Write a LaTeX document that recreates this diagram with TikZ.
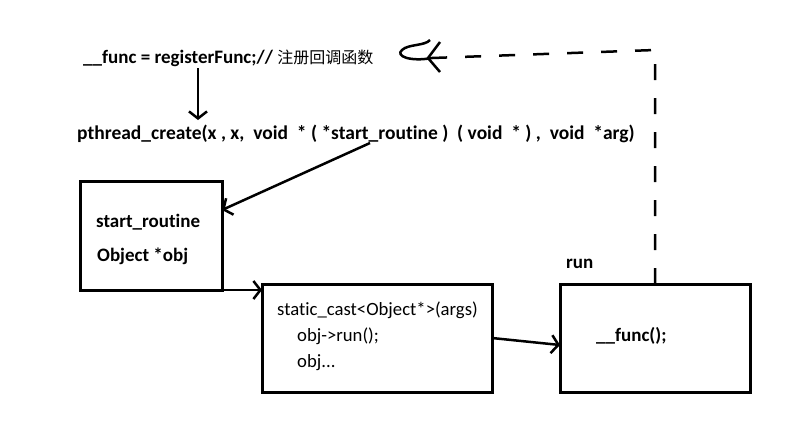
\documentclass[tikz,border=0pt]{standalone}
\usepackage{fontspec}
\setmainfont{Carlito}[Ligatures={NoCommon}]
\newfontfamily\cjk{Noto Sans CJK SC}
\usetikzlibrary{arrows.meta,calc}
\begin{document}
\begin{tikzpicture}[x=1pt,y=-1pt,
  lbl/.style={anchor=west,inner sep=0pt,font=\fontsize{19}{22}\selectfont\bfseries},
  lblr/.style={anchor=west,inner sep=0pt,font=\fontsize{18.7}{22}\selectfont},
  box/.style={draw,line width=3pt,inner sep=0pt,outer sep=0pt,anchor=north west},
  arr/.style={line width=2.5pt,-{Straight Barb[length=7pt,width=18pt,line width=2.5pt]}},
  dsh/.style={line width=2.5pt,dash pattern=on 16pt off 18pt}]
\useasboundingbox (0,0) rectangle (806,445);
\node[lbl] (reg) at (83,58) {\_\_func = registerFunc;// {\cjk\mdseries\fontsize{16}{18}\selectfont 注册回调函数}};
\node[lbl,font=\fontsize{19.5}{22}\selectfont\bfseries] (pc) at (77,134) {pthread\_create(x , x,\ \ void\ \ * ( *start\_routine )\ \ ( void\ \ * ) ,\ \ void\ \ *arg)};
\node[box,minimum width=142pt,minimum height=109pt] (b1) at (80,181) {};
\node[lbl] (t1) at (96,222) {start\_routine};
\node[lbl] (t2) at (97,256) {Object *obj};
\node[box,minimum width=230pt,minimum height=108pt] (b2) at (262,284) {};
\node[lblr] (t3) at (277,310) {static\_cast<Object*>(args)};
\node[lblr] (t4) at (297,336) {obj->run();};
\node[lblr] (t5) at (297,363) {obj...};
\node[box,minimum width=190pt,minimum height=108pt] (b3) at (560,284) {};
\node[lbl] (run) at (566,264) {run};
\node[lbl] (t6) at (596,336) {\_\_func();};
\coordinate (a1) at (198,68);
\coordinate (a2) at (198,120);
\draw[arr] (a1) -- (a2);
\coordinate (p1) at (370,143);
\draw[arr] (p1) -- (b1.east |- 0,210);
\draw[arr] (b1.south east) -- (b2.west |- b1.south east);
\draw[arr] (b2.east) -- (b3.west |- 0,345);
\coordinate (d1) at (655,284);
\coordinate (d2) at (655,50);
\coordinate (d3) at (432,58);
\draw[dsh] (d1) -- (d2) -- (d3);
\draw[line width=2.5pt] (440,42) -- (428,58) -- (440,72);
\draw[line width=2.5pt] (432,58) .. controls (410,62) and (395,56) .. (402,50) .. controls (408,44) and (425,46) .. (430,40);
\end{tikzpicture}
\end{document}
